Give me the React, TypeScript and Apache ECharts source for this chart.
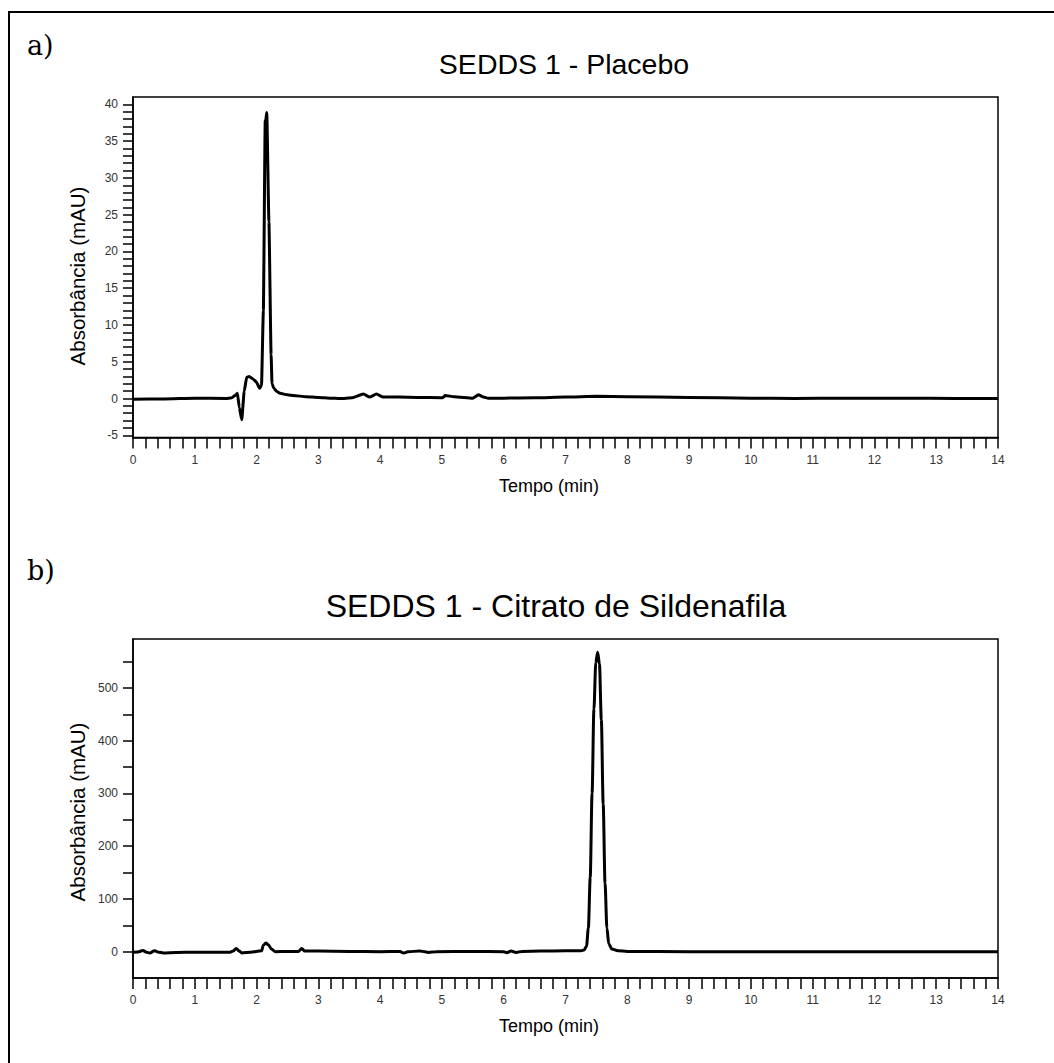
import React, { useEffect, useRef } from "react";
import * as echarts from "echarts";

// ---- Data (time in min, absorbance in mAU) ----
const placeboTrace: [number, number][] = [
  [0, -0.1], [0.5, -0.05], [1.0, 0.05], [1.5, 0.0], [1.6, 0.1], [1.65, 0.4], [1.69, 0.7],
  [1.72, -1.2], [1.76, -2.9], [1.8, 1.0], [1.84, 2.9], [1.88, 3.0], [1.95, 2.6], [2.0, 2.2],
  [2.05, 1.4], [2.08, 1.8], [2.11, 12], [2.14, 37.8], [2.15, 37.9], [2.165, 38.9], [2.2, 24],
  [2.235, 6], [2.25, 2.0], [2.28, 1.4], [2.32, 1.0], [2.38, 0.7], [2.5, 0.5], [2.6, 0.4],
  [2.8, 0.25], [3.0, 0.15], [3.2, 0.05], [3.35, 0.0], [3.55, 0.1], [3.73, 0.6], [3.83, 0.2],
  [3.94, 0.6], [4.05, 0.2], [4.3, 0.2], [4.6, 0.15], [5.0, 0.1], [5.02, 0.15], [5.05, 0.4],
  [5.2, 0.25], [5.5, 0.05], [5.59, 0.5], [5.67, 0.2], [5.75, 0.05], [6.0, 0.05], [6.5, 0.1],
  [7.0, 0.2], [7.5, 0.3], [8.0, 0.25], [9.0, 0.15], [10.0, 0.05], [10.7, 0.0], [11.5, 0.05],
  [12.5, 0.05], [13.3, 0.0], [14.0, 0.0],
];

const sildenafilTrace: [number, number][] = [
  [0, -1], [0.08, -0.5], [0.16, 2], [0.22, -1], [0.27, -2.5], [0.35, 1.5], [0.42, -1],
  [0.49, -2.5], [0.7, -1.5], [1.0, -1], [1.57, -1], [1.62, 1], [1.67, 6], [1.72, 1],
  [1.76, -2.5], [1.9, -1], [2.08, 1.5], [2.11, 12], [2.15, 16.5], [2.19, 13], [2.24, 5],
  [2.3, 0], [2.5, 0.5], [2.68, 0.5], [2.73, 6], [2.78, 1], [3.0, 1], [3.5, 0.5], [4.0, 0],
  [4.32, 0.5], [4.38, -2.5], [4.45, 0], [4.64, 1], [4.72, 0], [4.78, -1.5], [4.9, 0],
  [5.5, 0.5], [6.0, 0], [6.05, -2], [6.12, 1], [6.2, -1.5], [6.3, 0.5], [6.6, 1], [7.0, 1.5],
  [7.25, 1.5], [7.3, 3], [7.34, 10], [7.37, 45], [7.4, 140], [7.43, 300], [7.46, 460],
  [7.49, 548], [7.52, 568], [7.55, 545], [7.58, 440], [7.61, 280], [7.64, 130], [7.67, 45],
  [7.7, 15], [7.75, 5], [7.85, 1.5], [8.0, 0.5], [9.0, 0], [10.0, 0], [11.0, 0], [12.0, 0],
  [13.0, 0], [14.0, 0],
];

const xTickValues: number[] = Array.from({ length: 71 }, (_, i) => Math.round(i * 2) / 10);
const xLabelValues = [0, 1, 2, 3, 4, 5, 6, 7, 8, 9, 10, 11, 12, 13, 14];
const yTopTickValues: number[] = Array.from({ length: 46 }, (_, i) => i - 5);
const yTopLabelValues = [-5, 0, 5, 10, 15, 20, 25, 30, 35, 40];
const yBotTickValues = [0, 50, 100, 150, 200, 250, 300, 350, 400, 450, 500, 550];
const yBotLabelValues = [0, 100, 200, 300, 400, 500];

const titleA = "SEDDS 1 - Placebo";
const titleB = "SEDDS 1 - Citrato de Sildenafila";
const xName = "Tempo (min)";
const yName = "Absorbância (mAU)";

const SANS = '"Liberation Sans", Arial, sans-serif';

function xAxisCfg(gridIndex: number) {
  return {
    type: "value",
    gridIndex,
    min: 0,
    max: 14,
    axisLine: { show: true, onZero: false, lineStyle: { color: "#000", width: 1.5 } },
    axisTick: {
      show: true,
      length: 11,
      customValues: xTickValues,
      lineStyle: { color: "#000", width: 1.5 },
    },
    axisLabel: {
      customValues: xLabelValues,
      margin: 16,
      fontSize: 12,
      color: "#333",
      fontFamily: SANS,
    },
    splitLine: { show: false },
  };
}

function yAxisCfg(gridIndex: number, min: number, max: number, ticks: number[], labels: number[]) {
  return {
    type: "value",
    gridIndex,
    min,
    max,
    axisLine: { show: true, onZero: false, lineStyle: { color: "#000", width: 1.5 } },
    axisTick: {
      show: true,
      length: 10,
      customValues: ticks,
      lineStyle: { color: "#000", width: 1.5 },
    },
    axisLabel: {
      customValues: labels,
      margin: 15,
      fontSize: 12,
      color: "#333",
      fontFamily: SANS,
    },
    splitLine: { show: false },
  };
}

export default function App() {
  const ref = useRef<HTMLDivElement>(null);
  useEffect(() => {
    if (!ref.current) return;
    const chart = echarts.init(ref.current, undefined, { renderer: "svg" });
    chart.setOption({
      animation: false,
      backgroundColor: "#fff",
      grid: [
        { left: 133, top: 97, width: 865, height: 340.5, show: true, borderColor: "#000", borderWidth: 1.5, backgroundColor: "transparent" },
        { left: 133, top: 639, width: 865, height: 339, show: true, borderColor: "#000", borderWidth: 1.5, backgroundColor: "transparent" },
      ],
      xAxis: [xAxisCfg(0), xAxisCfg(1)],
      yAxis: [
        yAxisCfg(0, -5.3, 41, yTopTickValues, yTopLabelValues),
        yAxisCfg(1, -50, 593, yBotTickValues, yBotLabelValues),
      ],
      series: [
        {
          type: "line",
          xAxisIndex: 0,
          yAxisIndex: 0,
          data: placeboTrace,
          showSymbol: false,
          smooth: 0.15,
          smoothMonotone: "x",
          lineStyle: { color: "#000", width: 3 },
          itemStyle: { color: "#000" },
        },
        {
          type: "line",
          xAxisIndex: 1,
          yAxisIndex: 1,
          data: sildenafilTrace,
          showSymbol: false,
          smooth: 0.3,
          smoothMonotone: "x",
          lineStyle: { color: "#000", width: 3 },
          itemStyle: { color: "#000" },
        },
      ],
      graphic: [
        {
          type: "rect",
          shape: { x: 9, y: 12, width: 1300, height: 1300 },
          style: { fill: "none", stroke: "#000", lineWidth: 2 },
          silent: true,
        },
        { type: "text", x: 27, y: 45, style: { text: "a)", font: '27px "DejaVu Serif", serif', fill: "#000", textVerticalAlign: "middle" } },
        { type: "text", x: 27, y: 570, style: { text: "b)", font: '27px "DejaVu Serif", serif', fill: "#000", textVerticalAlign: "middle" } },
        { type: "text", x: 564, y: 64, style: { text: titleA, font: `28.5px ${SANS}`, fill: "#000", textAlign: "center", textVerticalAlign: "middle" } },
        { type: "text", x: 556, y: 606, style: { text: titleB, font: `32px ${SANS}`, fill: "#000", textAlign: "center", textVerticalAlign: "middle" } },
        { type: "text", x: 549, y: 486, style: { text: xName, font: `18px ${SANS}`, fill: "#000", textAlign: "center", textVerticalAlign: "middle" } },
        { type: "text", x: 549, y: 1026, style: { text: xName, font: `18px ${SANS}`, fill: "#000", textAlign: "center", textVerticalAlign: "middle" } },
        { type: "text", x: 77, y: 276, rotation: Math.PI / 2, style: { text: yName, font: `20.5px ${SANS}`, fill: "#000", textAlign: "center", textVerticalAlign: "middle" } },
        { type: "text", x: 77, y: 812, rotation: Math.PI / 2, style: { text: yName, font: `20.5px ${SANS}`, fill: "#000", textAlign: "center", textVerticalAlign: "middle" } },
      ],
    });
    return () => chart.dispose();
  }, []);
  return (
    <div
      ref={ref}
      style={{ position: "absolute", left: 0, top: 0, width: 1054, height: 1063 }}
    />
  );
}
